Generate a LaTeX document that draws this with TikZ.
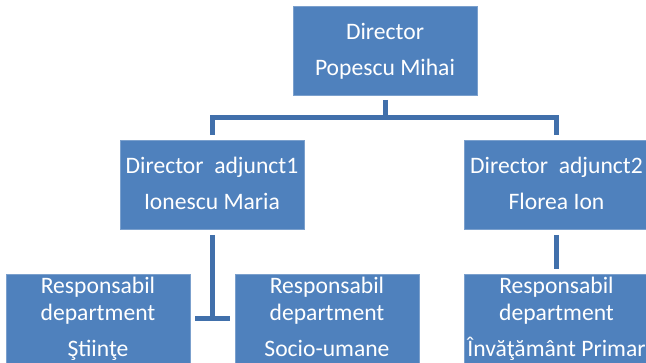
\documentclass[tikz,border=0pt]{standalone}
\usepackage{fontspec}
\setmainfont{Carlito}
\usetikzlibrary{calc}
\definecolor{boxfill}{HTML}{4F81BD}
\definecolor{boxedge}{HTML}{7BA0CD}
\definecolor{connblue}{HTML}{4170AB}
\newcommand\boxline[2]{\hbox to 184pt{\hss\vrule height #1 depth 0pt width 0pt\smash{#2}\hss}}
\begin{document}
\begin{tikzpicture}[x=1pt,y=-1pt,
  orgbox/.style={rectangle, fill=boxfill, draw=boxedge, line width=0.8pt, inner sep=0pt, outer sep=0pt, text=white, font=\fontsize{23.6}{28}\selectfont},
  conn/.style={draw=connblue, line width=5pt, line join=miter}]
\useasboundingbox (0,0) rectangle (646,363);
\clip (0,0) rectangle (646,363);
\node[orgbox] (top) at (385,50.5) {\vbox to 89pt{\offinterlineskip\boxline{34pt}{Director}\boxline{36pt}{Popescu Mihai}\vss}};
\node[orgbox] (adj1) at (212,184.5) {\vbox to 89pt{\offinterlineskip\boxline{34pt}{Director~~adjunct1}\boxline{36pt}{Ionescu Maria}\vss}};
\node[orgbox] (adj2) at (556.5,184.5) {\vbox to 89pt{\offinterlineskip\boxline{34pt}{Director~~adjunct2}\boxline{36pt}{Florea Ion}\vss}};
\node[orgbox] (ls) at (98,321.5) {\vbox to 95pt{\offinterlineskip\boxline{20pt}{Responsabil}\boxline{27pt}{department}\boxline{36pt}{Ştiinţe}\vss}};
\node[orgbox] (lm) at (327,321.5) {\vbox to 95pt{\offinterlineskip\boxline{20pt}{Responsabil}\boxline{27pt}{department}\boxline{36pt}{Socio-umane}\vss}};
\node[orgbox] (rr) at (556.5,321.5) {\vbox to 95pt{\offinterlineskip\boxline{20pt}{Responsabil}\boxline{27pt}{department}\boxline{36pt}{Învăţământ Primar}\vss}};
\coordinate (tj) at ($(top.south)+(0,22.5)$);
\draw[conn] ($(top.south)+(0,5)$) -- (tj);
\draw[conn] ($(adj1.north)+(0,-5)$) |- (tj) -| ($(adj2.north)+(0,-5)$);
\coordinate (lj) at ($(adj1.south)+(0,90)$);
\draw[conn] ($(adj1.south)+(0,6)$) -- (lj);
\draw[conn] ($(ls.east |- lj)+(5,0)$) -- ($(lm.west |- lj)+(-5,0)$);
\draw[conn] ($(adj2.south)+(0,6)$) -- ($(rr.north)+(0,-5)$);
\end{tikzpicture}
\end{document}
